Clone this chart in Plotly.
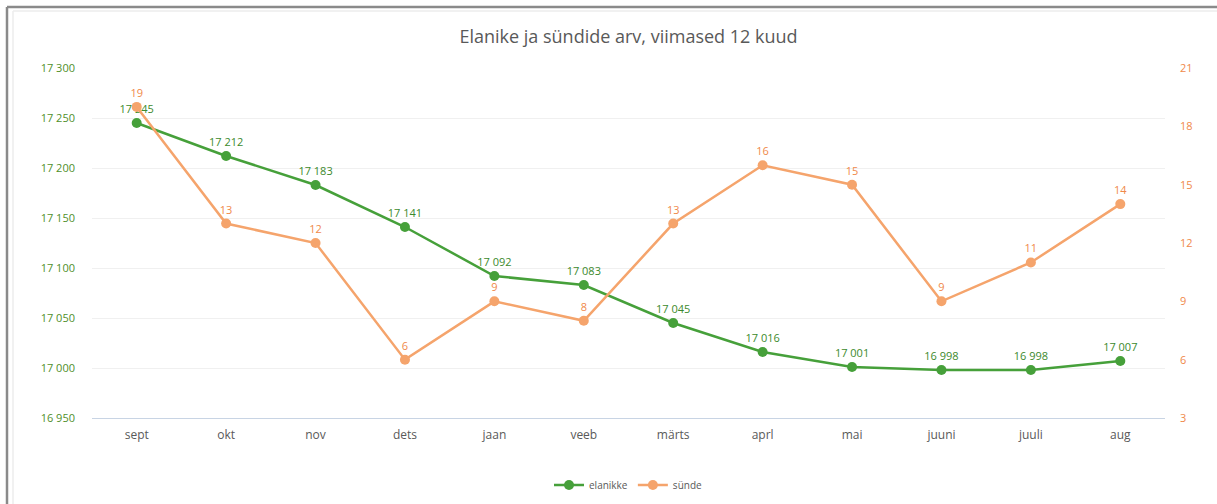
import plotly.graph_objects as go

months = ["sept", "okt", "nov", "dets", "jaan", "veeb", "märts", "aprl", "mai", "juuni", "juuli", "aug"]
elanikke = [17245, 17212, 17183, 17141, 17092, 17083, 17045, 17016, 17001, 16998, 16998, 17007]
synde = [19, 13, 12, 6, 9, 8, 13, 16, 15, 9, 11, 14]

GREEN = "#46a03a"
GREEN_TXT = "#3c8a2c"
ORANGE = "#f5a46c"
ORANGE_TXT = "#f0894a"
FONT = "Open Sans, Lato, sans-serif"

fig = go.Figure()
fig.add_trace(go.Scatter(
    x=months, y=elanikke, name="elanikke", mode="lines+markers+text",
    line=dict(color=GREEN, width=2.5), marker=dict(size=10, color=GREEN),
    text=elanikke, texttemplate="%{y:,d}", textposition="top center",
    textfont=dict(color=GREEN_TXT, size=11, family=FONT), yaxis="y", cliponaxis=False,
))
fig.add_trace(go.Scatter(
    x=months, y=synde, name="sünde", mode="lines+markers+text",
    line=dict(color=ORANGE, width=2.5), marker=dict(size=10, color=ORANGE),
    text=synde, textposition="top center",
    textfont=dict(color=ORANGE_TXT, size=11, family=FONT), yaxis="y2", cliponaxis=False,
))

L, R, T, B = 92, 52, 68, 86
W, H = 1217, 504
pw, ph = W - L - R, H - T - B

def px(x):
    return (x - L) / pw

def py(y):
    return (H - B - y) / ph

shapes = [
    dict(type="line", xref="paper", yref="paper", x0=px(7), x1=px(1217), y0=py(7), y1=py(7),
         line=dict(color="#8a8a8a", width=2.5)),
    dict(type="line", xref="paper", yref="paper", x0=px(7), x1=px(7), y0=py(7), y1=py(504),
         line=dict(color="#8a8a8a", width=2.5)),
    dict(type="line", xref="paper", yref="paper", x0=px(13), x1=px(1217), y0=py(11), y1=py(11),
         line=dict(color="#ececec", width=1.5)),
    dict(type="line", xref="paper", yref="paper", x0=px(13), x1=px(13), y0=py(11), y1=py(504),
         line=dict(color="#ececec", width=1.5)),
]

fig.update_layout(
    width=W, height=H,
    margin=dict(l=L, r=R, t=T, b=B, autoexpand=False),
    paper_bgcolor="white", plot_bgcolor="white",
    separators=", ",
    font=dict(family=FONT, color="#595959"),
    title=dict(text="Elanike ja sündide arv, viimased 12 kuud", x=0.5, xref="paper",
               y=1 - 37 / H, yanchor="middle",
               font=dict(size=18, color="#595959", family=FONT)),
    xaxis=dict(type="category", range=[-0.5, 11.5], showgrid=False, showline=True,
               linecolor="#c8d4e4", linewidth=1, ticks="", tickfont=dict(size=12, color="#595959"),
               ticklabelstandoff=6),
    yaxis=dict(range=[16950, 17300], dtick=50, tickformat=",d", showgrid=True, gridcolor="#f0f0f0",
               zeroline=False, showline=False, tickfont=dict(size=11, color="#4f8f2a"),
               ticklabelstandoff=16),
    yaxis2=dict(range=[3, 21], dtick=3, overlaying="y", side="right", showgrid=False,
                zeroline=False, showline=False, tickfont=dict(size=11, color=ORANGE_TXT),
                ticklabelstandoff=14),
    legend=dict(orientation="h", x=0.5, xanchor="center", xref="paper",
                y=1 - 485 / H, yref="container", yanchor="middle",
                font=dict(size=10, color="#595959"), itemwidth=30),
    showlegend=True,
    shapes=shapes,
)

fig.write_html("out.html", config={"displayModeBar": False},
               post_script="document.body.style.margin='0';document.body.style.overflow='hidden';")
